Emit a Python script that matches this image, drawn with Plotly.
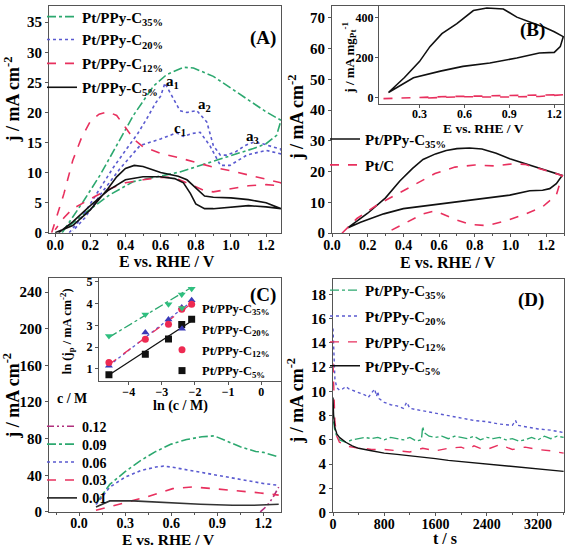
import plotly.graph_objects as go

FONT = "Liberation Serif"
GREEN = "#2ca86f"
BLUE = "#5a5ad0"
RED = "#e8305e"
BLACK = "#111111"
PINK = "#b02f7c"
AXC = "#555555"

W, H = 566, 548

# ---------------- Panel A data (j / mA cm-2 vs E / V), upper + lower branches
A35_up_x = [0.04, 0.085, 0.16, 0.256, 0.35, 0.445, 0.56, 0.635, 0.73, 0.787, 0.9, 1.014, 1.128, 1.2, 1.285]
A35_up_y = [0, 1.9, 5.2, 9.6, 14.5, 19.5, 24.4, 26.3, 27.5, 27.4, 26.0, 23.8, 21.6, 20.1, 18.7]
A35_lo_x = [1.285, 1.26, 1.2, 1.128, 0.976, 0.825, 0.71, 0.578, 0.445, 0.31, 0.18, 0.066]
A35_lo_y = [18.7, 16.2, 14.8, 14.0, 12.6, 11.2, 10.1, 9.3, 8.5, 6.3, 3.5, 0.8]

A20_up_x = [0.08, 0.15, 0.256, 0.33, 0.408, 0.47, 0.52, 0.57, 0.6, 0.625, 0.65, 0.673, 0.71, 0.75, 0.806, 0.863, 0.9, 0.94, 0.976, 1.03, 1.08, 1.128, 1.18, 1.235, 1.285]
A20_up_y = [0, 2.5, 7.4, 10.8, 14.0, 16.5, 18.9, 21.5, 22.7, 24.9, 23.5, 22.2, 20.3, 20.0, 20.3, 18.4, 14.5, 12.9, 12.9, 13.5, 14.5, 15.05, 14.8, 14.3, 13.9]
A20_lo_x = [1.285, 1.2, 1.09, 1.03, 0.995, 0.94, 0.88, 0.825, 0.78, 0.73, 0.69, 0.6, 0.483, 0.37, 0.256, 0.17, 0.1]
A20_lo_y = [13.1, 13.7, 12.9, 11.9, 11.2, 11.2, 14.5, 16.7, 16.5, 16.0, 16.6, 15.6, 14.5, 10.7, 6.3, 2.5, 0.3]

A12_up_x = [-0.02, 0.02, 0.05, 0.1, 0.15, 0.2, 0.25, 0.3, 0.35, 0.4, 0.45, 0.5, 0.6, 0.7, 0.8, 0.9, 1.0, 1.1, 1.2, 1.285]
A12_up_y = [0, 3.5, 6.5, 12.0, 15.8, 18.5, 19.7, 20.1, 19.5, 17.5, 15.5, 14.3, 13.2, 12.5, 11.7, 10.9, 10.3, 9.6, 9.0, 8.3]
A12_lo_x = [1.285, 1.2, 1.1, 1.0, 0.9, 0.85, 0.8, 0.75, 0.7, 0.65, 0.6, 0.5, 0.4, 0.3, 0.2, 0.1, 0.05, 0.0]
A12_lo_y = [7.8, 8.0, 7.8, 7.3, 6.8, 7.0, 7.6, 8.3, 8.9, 9.2, 9.2, 8.8, 8.3, 7.2, 5.6, 4.0, 2.5, 0.5]

A5_up_x = [0, 0.1, 0.2, 0.3, 0.35, 0.4, 0.45, 0.5, 0.6, 0.7, 0.75, 0.8, 0.85, 0.9, 1.0, 1.1, 1.2, 1.285]
A5_up_y = [0, 1.2, 3.8, 7.3, 9.3, 10.7, 11.2, 11.0, 10.0, 9.4, 8.8, 7.4, 6.1, 5.9, 5.8, 5.5, 5.0, 4.0]
A5_lo_x = [1.285, 1.2, 1.1, 1.0, 0.9, 0.85, 0.8, 0.77, 0.73, 0.68, 0.6, 0.5, 0.4, 0.3, 0.2, 0.1, 0.02]
A5_lo_y = [4.0, 4.3, 4.5, 4.2, 4.0, 4.0, 4.8, 6.5, 8.3, 9.0, 9.3, 9.3, 8.8, 7.0, 4.5, 1.8, 0]

A_peak_labels = ["a<sub>1</sub>", "a<sub>2</sub>", "c<sub>1</sub>", "a<sub>3</sub>"]
A_peak_x = [0.67, 0.85, 0.71, 1.12]
A_peak_y = [25.0, 21.2, 17.3, 16.0]

# ---------------- Panel B data
B35_up_x = [0.09, 0.2, 0.3, 0.38, 0.45, 0.51, 0.58, 0.64, 0.7, 0.77, 0.84, 0.92, 0.996, 1.07, 1.145, 1.22, 1.29]
B35_up_y = [1.8, 6.5, 11.5, 17.0, 21.0, 24.0, 25.8, 26.9, 27.5, 27.7, 27.4, 26.0, 24.2, 22.8, 21.5, 20.2, 18.8]
B35_lo_x = [1.29, 1.257, 1.22, 1.18, 1.108, 0.996, 0.847, 0.7, 0.54, 0.4, 0.29, 0.16, 0.09]
B35_lo_y = [18.8, 16.1, 14.5, 14.0, 13.8, 12.4, 11.3, 10.2, 8.9, 8.0, 6.3, 3.6, 1.8]

BPtC_up_x = [0.056, 0.14, 0.25, 0.354, 0.466, 0.577, 0.689, 0.8, 0.91, 1.02, 1.08, 1.14, 1.22, 1.29]
BPtC_up_y = [0, 4.8, 9.1, 12.4, 16.1, 19.4, 21.5, 22.2, 21.9, 22.6, 22.4, 21.3, 20.0, 18.8]
BPtC_lo_x = [1.29, 1.257, 1.18, 1.07, 0.96, 0.87, 0.78, 0.7, 0.62, 0.578, 0.51, 0.45, 0.4, 0.3]
BPtC_lo_y = [18.8, 12.4, 8.6, 5.9, 3.8, 2.5, 2.8, 4.3, 6.3, 7.3, 6.3, 4.5, 2.9, 0]

# inset B (mass activity, mA mg_Pt^-1)
Bi35_up_x = [0.093, 0.2, 0.3, 0.37, 0.45, 0.55, 0.66, 0.75, 0.86, 0.95, 1.05, 1.13, 1.2, 1.26]
Bi35_up_y = [25, 100, 180, 255, 320, 370, 436, 449, 444, 403, 375, 354, 330, 305]
Bi35_lo_x = [1.26, 1.24, 1.2, 1.1, 0.95, 0.77, 0.59, 0.44, 0.26, 0.093]
Bi35_lo_y = [305, 255, 226, 223, 198, 173, 156, 132, 99, 25]
BiPtC_up_x = [0.06, 0.3, 0.5, 0.75, 1.0, 1.26]
BiPtC_up_y = [-6, 1, 5, 8, 10, 14]
BiPtC_lo_x = [1.26, 1.1, 0.85, 0.6, 0.45, 0.3]
BiPtC_lo_y = [14, 5, 2, 4, 1, -4]

# ---------------- Panel C data (different methanol concentrations)
C_conc = ["0.12", "0.09", "0.06", "0.03", "0.01"]
C012_x = [1.18, 1.22, 1.26, 1.3]
C012_y = [0, 6, 15, 27]
C009_x = [0.11, 0.2, 0.3, 0.4, 0.5, 0.6, 0.7, 0.8, 0.88, 0.95, 1.05, 1.15, 1.2, 1.3]
C009_y = [9, 30, 44, 56, 66, 74, 79, 82, 83, 78, 71, 66, 65, 60]
C006_x = [0.11, 0.2, 0.3, 0.4, 0.5, 0.55, 0.6, 0.7, 0.8, 0.9, 1.0, 1.1, 1.2, 1.3]
C006_y = [8, 27, 38, 45, 49, 50, 49, 46, 43, 40, 37, 34, 31, 29]
C003_x = [0.11, 0.265, 0.44, 0.61, 0.74, 0.874, 1.0, 1.18, 1.3]
C003_y = [1.8, 8.3, 16.3, 25.4, 27.2, 25.4, 23.6, 20.7, 18.3]
C001_x = [0.11, 0.2, 0.35, 0.57, 0.79, 1.0, 1.135, 1.3]
C001_y = [5.4, 12.0, 12.0, 9.8, 8.3, 7.2, 7.2, 8.3]

# inset C: ln(jp) vs ln(c)
lnc = [-4.6, -3.5, -2.8, -2.4, -2.1]
ln_jp35 = [2.51, 3.5, 3.97, 4.42, 4.68]
ln_jp20 = [1.15, 2.67, 3.27, 3.82, 4.15]
ln_jp12 = [1.29, 2.36, 3.05, 3.74, 3.97]
ln_jp5 = [0.73, 1.67, 2.37, 3.04, 3.28]
fit_x = [-4.6, -2.1]
fit35 = [2.45, 4.75]
fit20 = [1.15, 4.1]
fit12 = [1.2, 4.0]
fit5 = [0.72, 3.2]

# ---------------- Panel D data (chronoamperometry)
D35_t = [0, 10, 30, 60, 100, 150, 200, 300, 400, 500, 600, 700, 800, 900, 1000, 1100, 1200, 1300, 1380, 1400, 1420, 1500, 1600, 1700, 1800, 1900, 2000, 2100, 2200, 2300, 2400, 2500, 2600, 2700, 2800, 2900, 3000, 3100, 3200, 3300, 3400, 3500, 3600]
D35_j = [9.0, 7.5, 6.7, 6.3, 6.0, 5.9, 5.8, 6.0, 6.1, 6.2, 6.1, 6.2, 6.0, 6.2, 6.1, 6.0, 6.2, 5.9, 6.0, 7.1, 6.6, 6.3, 6.2, 6.3, 6.1, 6.3, 6.2, 6.1, 6.3, 6.0, 6.2, 6.1, 6.2, 6.0, 6.1, 5.9, 6.0, 6.2, 6.0, 6.3, 6.1, 6.3, 6.2]
D20_t = [0, 10, 30, 60, 100, 150, 200, 250, 300, 400, 500, 550, 600, 650, 680, 700, 720, 800, 900, 1000, 1100, 1150, 1200, 1300, 1400, 1600, 1800, 2000, 2200, 2400, 2600, 2800, 2850, 2880, 3000, 3200, 3400, 3600]
D20_j = [15.2, 13.0, 11.0, 10.3, 10.1, 10.2, 10.4, 10.2, 10.1, 9.9, 9.7, 9.5, 9.9, 10.2, 9.6, 10.0, 9.4, 9.1, 8.9, 8.8, 8.6, 9.1, 8.6, 8.5, 8.4, 8.2, 8.0, 7.8, 7.6, 7.5, 7.3, 7.2, 7.6, 7.2, 7.1, 6.9, 6.8, 6.6]
D12_t = [0, 10, 30, 60, 100, 150, 200, 300, 400, 500, 600, 800, 1000, 1200, 1400, 1500, 1600, 1800, 2000, 2100, 2200, 2300, 2400, 2600, 2800, 3000, 3200, 3400, 3600]
D12_j = [12.3, 10.0, 7.5, 6.3, 5.8, 5.7, 5.5, 5.4, 5.3, 5.3, 5.2, 5.2, 5.1, 5.0, 5.3, 5.2, 5.1, 5.3, 5.4, 5.2, 5.5, 5.3, 5.2, 5.6, 5.2, 5.4, 5.2, 5.1, 4.9]
D5_t = [0, 10, 30, 60, 100, 200, 300, 400, 600, 800, 1000, 1200, 1400, 1600, 1800, 2000, 2200, 2400, 2600, 2800, 3000, 3200, 3400, 3600]
D5_j = [9.5, 8.0, 7.0, 6.5, 6.2, 5.8, 5.5, 5.3, 5.1, 4.9, 4.8, 4.7, 4.55, 4.45, 4.3, 4.2, 4.05, 3.95, 3.85, 3.75, 3.65, 3.6, 3.5, 3.4]

SERIES = ["Pt/PPy-C<sub>35%</sub>", "Pt/PPy-C<sub>20%</sub>", "Pt/PPy-C<sub>12%</sub>", "Pt/PPy-C<sub>5%</sub>"]

# ---------------- layout helpers (positions in pixels)
LEGENDS = {}


def bold(size):
    return dict(family=FONT, size=size, color="black", weight="bold")


def make_leg(xpx, ypx, size=15):
    n = len(LEGENDS) + 1
    key = "legend" if n == 1 else "legend%d" % n
    LEGENDS[key] = dict(x=xpx / W, y=1 - ypx / H, xanchor="left", yanchor="middle",
                        bgcolor="rgba(0,0,0,0)", borderwidth=0, itemwidth=30, font=bold(size))
    return key


fig = go.Figure()


def add_line(x, y, color, dash, xa, ya, name=None, leg=None, width=1.6):
    fig.add_trace(go.Scatter(x=x, y=y, mode="lines", name=name,
                             legend=leg if leg else "legend", showlegend=leg is not None,
                             line=dict(color=color, dash=dash, width=width),
                             xaxis=xa, yaxis=ya, hoverinfo="skip"))


LX_MAIN_L = 42     # legend left for left-column panels
LX_MAIN_R = 325    # legend left for right-column panels

# Panel A
A_LEG_Y = [14, 37, 61, 85]
add_line(A35_up_x + A35_lo_x, A35_up_y + A35_lo_y, GREEN, "dashdot", "x", "y", SERIES[0], make_leg(LX_MAIN_L, A_LEG_Y[0]))
add_line(A20_up_x + A20_lo_x, A20_up_y + A20_lo_y, BLUE, "dot", "x", "y", SERIES[1], make_leg(LX_MAIN_L, A_LEG_Y[1]))
add_line(A12_up_x + A12_lo_x, A12_up_y + A12_lo_y, RED, "dash", "x", "y", SERIES[2], make_leg(LX_MAIN_L, A_LEG_Y[2]))
add_line(A5_up_x + A5_lo_x, A5_up_y + A5_lo_y, BLACK, "solid", "x", "y", SERIES[3], make_leg(LX_MAIN_L, A_LEG_Y[3]))

# Panel B
B_LEG_Y = [137, 163]
add_line(B35_up_x + B35_lo_x, B35_up_y + B35_lo_y, BLACK, "solid", "x2", "y2", SERIES[0], make_leg(LX_MAIN_R, B_LEG_Y[0]))
add_line(BPtC_up_x + BPtC_lo_x, BPtC_up_y + BPtC_lo_y, RED, "dash", "x2", "y2", "Pt/C", make_leg(LX_MAIN_R, B_LEG_Y[1]))
add_line(Bi35_up_x + Bi35_lo_x, Bi35_up_y + Bi35_lo_y, BLACK, "solid", "x3", "y3")
add_line(BiPtC_up_x + BiPtC_lo_x, BiPtC_up_y + BiPtC_lo_y, RED, "dash", "x3", "y3")

# Panel C
C_LEG_Y = [426, 444, 462, 480, 498]
add_line(C012_x, C012_y, PINK, "7px,3px,2px,3px,2px,3px", "x4", "y4", C_conc[0], make_leg(LX_MAIN_L, C_LEG_Y[0], 14))
add_line(C009_x, C009_y, GREEN, "dashdot", "x4", "y4", C_conc[1], make_leg(LX_MAIN_L, C_LEG_Y[1], 14))
add_line(C006_x, C006_y, BLUE, "dot", "x4", "y4", C_conc[2], make_leg(LX_MAIN_L, C_LEG_Y[2], 14))
add_line(C003_x, C003_y, RED, "dash", "x4", "y4", C_conc[3], make_leg(LX_MAIN_L, C_LEG_Y[3], 14))
add_line(C001_x, C001_y, "#333333", "solid", "x4", "y4", C_conc[4], make_leg(LX_MAIN_L, C_LEG_Y[4], 14))

# inset C fits and points
add_line(fit_x, fit35, GREEN, "dashdot", "x5", "y5", width=1.3)
add_line(fit_x, fit20, BLUE, "dot", "x5", "y5", width=1.3)
add_line(fit_x, fit12, RED, "dash", "x5", "y5", width=1.3)
add_line(fit_x, fit5, BLACK, "solid", "x5", "y5", width=1.3)
CI_LEG_Y = [307, 328, 349, 370]
for i, (vals, col, sym) in enumerate([(ln_jp35, "#2fbf7f", "triangle-down"),
                                      (ln_jp20, "#3a3ab8", "triangle-up"),
                                      (ln_jp12, "#ee2a52", "circle"),
                                      (ln_jp5, BLACK, "square")]):
    fig.add_trace(go.Scatter(x=lnc, y=vals, mode="markers", name=SERIES[i],
                             legend=make_leg(162, CI_LEG_Y[i], 12.5),
                             marker=dict(color=col, symbol=sym, size=7),
                             xaxis="x5", yaxis="y5", hoverinfo="skip"))

# Panel D
D_LEG_Y = [289, 315, 341, 365]
add_line(D35_t, D35_j, GREEN, "dashdot", "x6", "y6", SERIES[0], make_leg(LX_MAIN_R, D_LEG_Y[0]), 1.4)
add_line(D20_t, D20_j, BLUE, "dot", "x6", "y6", SERIES[1], make_leg(LX_MAIN_R, D_LEG_Y[1]), 1.4)
add_line(D12_t, D12_j, RED, "dash", "x6", "y6", SERIES[2], make_leg(LX_MAIN_R, D_LEG_Y[2]), 1.4)
add_line(D5_t, D5_j, BLACK, "solid", "x6", "y6", SERIES[3], make_leg(LX_MAIN_R, D_LEG_Y[3]), 1.4)


def dx(a, b):
    return [a / W, b / W]


def dy(top, bottom):
    return [1 - bottom / H, 1 - top / H]


def axis(domain, rng, dtick, anchor, size=14, minor=None, tick0=0, fmt=None, lab_off=0):
    d = dict(domain=domain, range=rng, dtick=dtick, tick0=tick0, anchor=anchor,
             showline=True, linecolor=AXC, linewidth=1, mirror=True,
             ticks="outside", ticklen=3, tickcolor=AXC, showgrid=False, zeroline=False,
             automargin=False, tickfont=bold(size), ticklabelstandoff=lab_off)
    if fmt:
        d["tickformat"] = fmt
    if minor:
        d["minor"] = dict(dtick=minor, ticks="outside", ticklen=2, tickcolor=AXC)
    return d


lay = dict(
    width=W, height=H, margin=dict(l=0, r=0, t=0, b=0),
    paper_bgcolor="white", plot_bgcolor="white", template="none",
    xaxis=axis(dx(49, 281), [-0.035, 1.285], 0.2, "y", minor=0.1, fmt=".1f", lab_off=-4),
    yaxis=axis(dy(3, 231), [0, 37.7], 5, "x", size=15),
    xaxis2=axis(dx(332, 564), [0, 1.3], 0.2, "y2", minor=0.1, fmt=".1f", lab_off=-4),
    yaxis2=axis(dy(3, 231.5), [0, 73.9], 10, "x2", size=15),
    xaxis3=axis(dx(379, 564), [0.03, 1.265], 0.3, "y3", size=12, fmt=".1f", lab_off=-5),
    yaxis3=axis(dy(3, 102), [-35, 459], 200, "x3", size=12, lab_off=-1),
    xaxis4=axis(dx(49, 281), [-0.196, 1.315], 0.3, "y4", minor=0.15, fmt=".1f", lab_off=-5),
    yaxis4=axis(dy(277, 511.7), [0, 254.8], 40, "x4", size=15),
    xaxis5=axis(dx(99, 281), [-4.9, 0.6], 1, "y5", size=12, lab_off=-3),
    yaxis5=axis(dy(277, 380), [0.45, 5.15], 1, "x5", size=12),
    xaxis6=axis(dx(333, 564), [0, 3606], 800, "y6", minor=400, lab_off=-4),
    yaxis6=axis(dy(277.3, 512.3), [0, 19.3], 2, "x6", size=15),
)
lay.update(LEGENDS)

XT = "E vs. RHE / V"
YT = "j / mA cm<sup>-2</sup>"
# axis titles: (text, x px, y px, size, angle)
TITLES = [
    (XT, 167, 260, 16, 0), (YT, 12, 97, 18, -90),
    (XT, 448, 260.5, 16, 0), (YT, 296, 115, 18, -90),
    (XT, 483, 126, 13.5, 0), ("j / mA mg<sub>Pt</sub><sup>-1</sup>", 349, 55, 13, -90),
    (XT, 168, 539, 15.5, 0), (YT, 12, 395, 18, -90),
    ("ln (c / M)", 180, 405, 14, 0), ("ln (j<sub>p</sub> / mA cm<sup>-2</sup>)", 67, 330, 12.5, -90),
    ("t / s", 445, 538, 16, 0), (YT, 296, 400, 18, -90),
]

ann = []
for t, px, py, s, a in TITLES:
    ann.append(dict(text=t, x=px / W, y=1 - py / H, xref="paper", yref="paper", showarrow=False,
                    textangle=a, xanchor="center", yanchor="middle", font=bold(s)))
for t, x, y in zip(A_peak_labels, A_peak_x, A_peak_y):
    ann.append(dict(text=t, x=x, y=y, xref="x", yref="y", showarrow=False, font=bold(15)))
for t, px, py in [("(A)", 263, 21.7), ("(B)", 546.7, 14), ("(C)", 263, 294), ("(D)", 546, 299)]:
    ann.append(dict(text=t, x=px / W, y=1 - py / H, xref="paper", yref="paper", showarrow=False, font=bold(19)))
ann.append(dict(text="c / M", x=55 / W, y=1 - 407 / H, xref="paper", yref="paper", xanchor="left",
                showarrow=False, font=bold(14)))
lay["annotations"] = ann

fig.update_layout(**lay)
fig.write_html("out.html", config={"displayModeBar": False},
               post_script="document.body.style.margin='0px';document.body.style.padding='0px';")
